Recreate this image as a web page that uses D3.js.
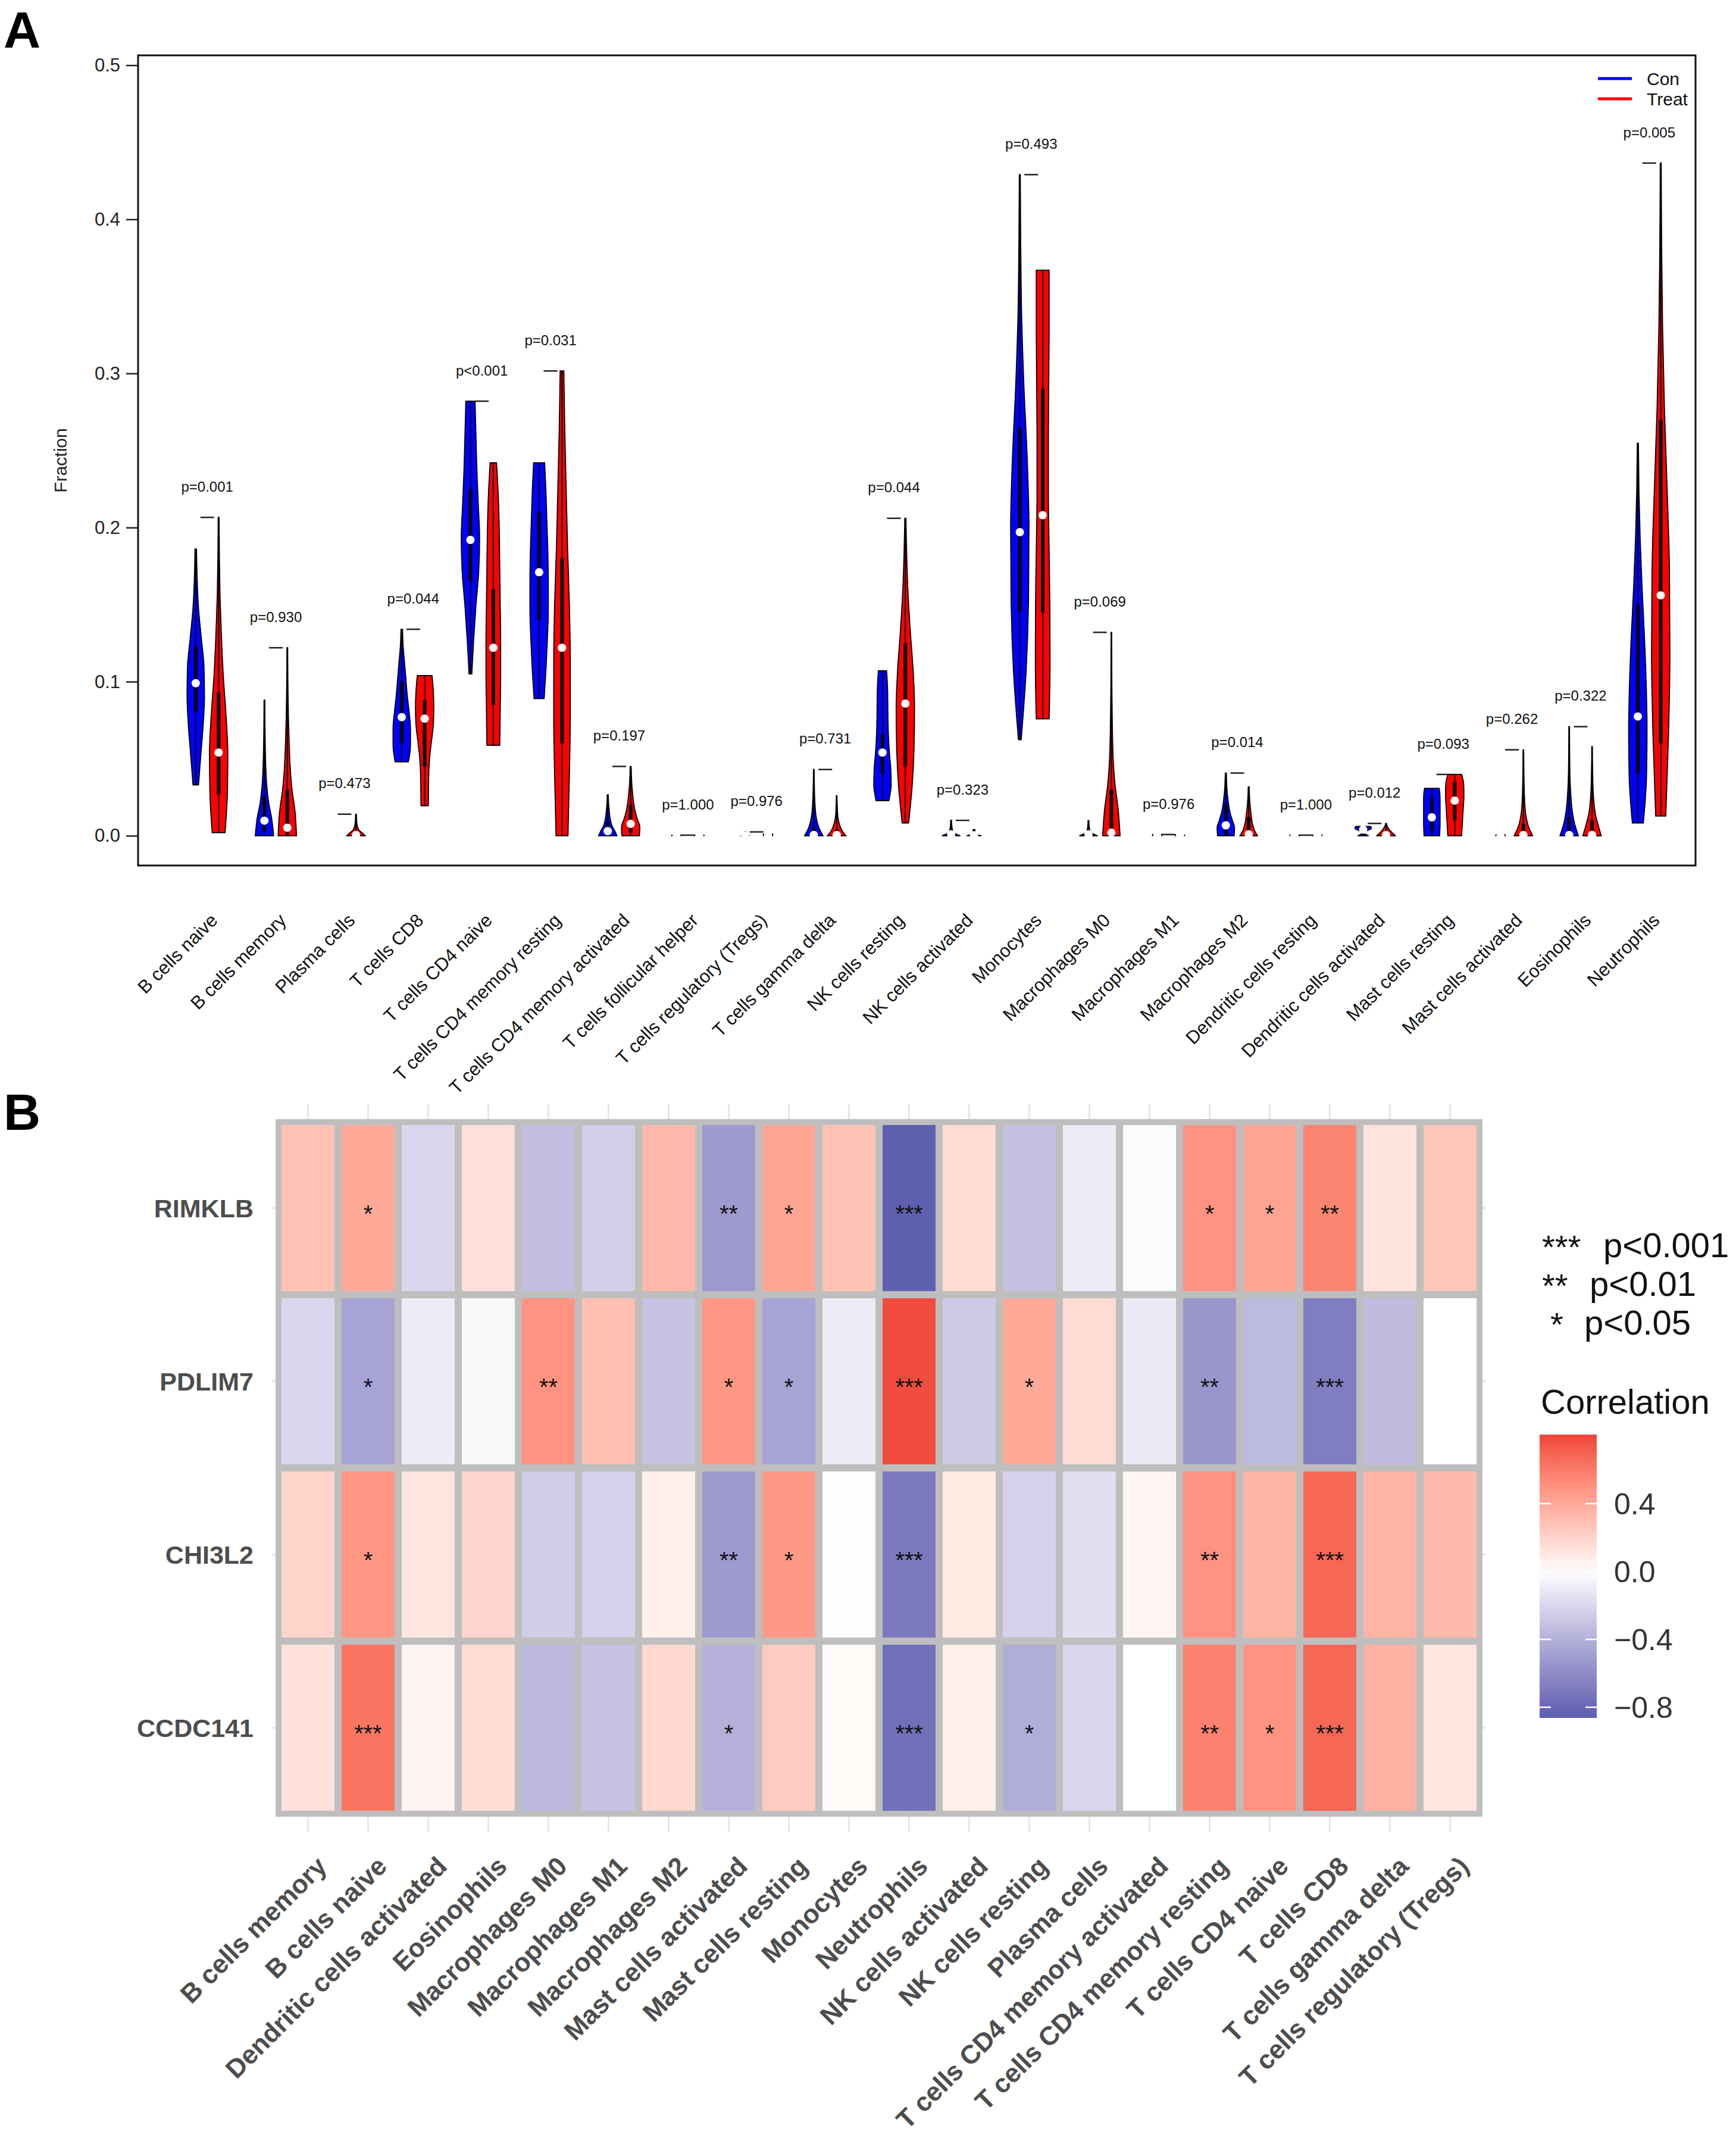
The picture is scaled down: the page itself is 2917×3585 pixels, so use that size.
<!DOCTYPE html>
<html>
<head>
<meta charset="utf-8">
<script src="https://cdn.jsdelivr.net/npm/d3@7"></script>
<style>
  html, body { margin: 0; padding: 0; background: #fff; }
  svg { display: block; font-family: "Liberation Sans", Arial, Helvetica, sans-serif; }
</style>
</head>
<body>
<svg id="fig" width="2917" height="3585"></svg>
<script>

// ---------- panel A data ----------
var cellTypes = ['B cells naive', 'B cells memory', 'Plasma cells', 'T cells CD8', 'T cells CD4 naive',
  'T cells CD4 memory resting', 'T cells CD4 memory activated', 'T cells follicular helper',
  'T cells regulatory (Tregs)', 'T cells gamma delta', 'NK cells resting', 'NK cells activated',
  'Monocytes', 'Macrophages M0', 'Macrophages M1', 'Macrophages M2', 'Dendritic cells resting',
  'Dendritic cells activated', 'Mast cells resting', 'Mast cells activated', 'Eosinophils', 'Neutrophils'];

var pLabels = ['p=0.001', 'p=0.930', 'p=0.473', 'p=0.044', 'p<0.001', 'p=0.031', 'p=0.197', 'p=1.000',
  'p=0.976', 'p=0.731', 'p=0.044', 'p=0.323', 'p=0.493', 'p=0.069', 'p=0.976', 'p=0.014', 'p=1.000',
  'p=0.012', 'p=0.093', 'p=0.262', 'p=0.322', 'p=0.005'];

// [min, q1, median, q3, max]
var conStats = [
  [0.033, 0.080, 0.099, 0.123, 0.186],
  [0, 0.003, 0.0098, 0.025, 0.088],
  [0, 0, 0.0003, 0.001, 0.002],
  [0.048, 0.060, 0.077, 0.100, 0.134],
  [0.105, 0.165, 0.192, 0.225, 0.282],
  [0.089, 0.140, 0.171, 0.210, 0.242],
  [0, 0, 0.003, 0.009, 0.0266],
  [0, 0, 0, 0, 0.0004],
  [0, 0, 0, 0.0005, 0.0025],
  [0, 0, 0.0005, 0.006, 0.043],
  [0.0228, 0.040, 0.054, 0.066, 0.107],
  [0, 0, 0.001, 0.004, 0.010],
  [0.0624, 0.145, 0.197, 0.265, 0.429],
  [0, 0, 0.001, 0.002, 0.0098],
  [0, 0, 0, 0, 0.0008],
  [0, 0, 0.0068, 0.020, 0.0407],
  [0, 0, 0, 0, 0.0004],
  [0, 0.001, 0.004, 0.005, 0.006],
  [0, 0.003, 0.012, 0.025, 0.0308],
  [0, 0, 0, 0, 0.0006],
  [0, 0, 0.0005, 0.012, 0.0708],
  [0.0083, 0.040, 0.0774, 0.150, 0.2547]
];
var treatStats = [
  [0.002, 0.027, 0.054, 0.093, 0.2066],
  [0, 0.001, 0.0052, 0.030, 0.122],
  [0, 0, 0.0005, 0.002, 0.014],
  [0.0195, 0.045, 0.076, 0.088, 0.104],
  [0.0587, 0.085, 0.122, 0.160, 0.242],
  [0, 0.060, 0.122, 0.180, 0.3016],
  [0, 0.002, 0.0077, 0.020, 0.045],
  [0, 0, 0, 0, 0.0004],
  [0, 0, 0, 0, 0.001],
  [0, 0, 0.0005, 0.004, 0.026],
  [0.0083, 0.045, 0.0858, 0.125, 0.206],
  [0, 0, 0.0003, 0.001, 0.004],
  [0.0759, 0.145, 0.208, 0.290, 0.367],
  [0, 0, 0.002, 0.030, 0.132],
  [0, 0, 0, 0, 0.0004],
  [0, 0, 0.001, 0.012, 0.0317],
  [0, 0, 0, 0, 0.0004],
  [0, 0, 0.0005, 0.003, 0.008],
  [0, 0.010, 0.0228, 0.035, 0.0398],
  [0, 0, 0.0005, 0.008, 0.0558],
  [0, 0, 0.0005, 0.010, 0.0579],
  [0.0128, 0.060, 0.156, 0.270, 0.4365]
];

// violin half-widths (fraction of 0.4 x-units), from min (first) to max (last)
var conShape = [
  [0.3, 0.55, 0.8, 0.95, 0.9, 0.6, 0.3, 0.15, 0.08],
  [1.0, 0.8, 0.45, 0.25, 0.15, 0.1, 0.07, 0.05, 0.04],
  [0.4, 0.2, 0.1, 0.08, 0.06, 0.05, 0.04, 0.03, 0.03],
  [0.72, 0.95, 0.95, 0.8, 0.6, 0.45, 0.3, 0.15, 0.08],
  [0.15, 0.35, 0.6, 0.9, 1.0, 0.85, 0.7, 0.6, 0.5],
  [0.55, 0.75, 0.9, 1.0, 1.0, 0.95, 0.85, 0.75, 0.6],
  [1.0, 0.75, 0.45, 0.3, 0.2, 0.15, 0.1, 0.07, 0.05],
  [0.5, 0.5, 0.5, 0.5, 0.5, 0.5, 0.5, 0.5, 0.5],
  [0.5, 0.3, 0.2, 0.15, 0.1, 0.1, 0.1, 0.1, 0.1],
  [1.0, 0.55, 0.3, 0.18, 0.12, 0.08, 0.06, 0.04, 0.03],
  [0.7, 0.95, 0.9, 0.75, 0.65, 0.6, 0.58, 0.55, 0.45],
  [1.0, 0.5, 0.25, 0.15, 0.1, 0.08, 0.06, 0.05, 0.05],
  [0.15, 0.7, 0.95, 1.0, 0.8, 0.45, 0.2, 0.1, 0.05],
  [1.0, 0.5, 0.25, 0.15, 0.1, 0.08, 0.06, 0.05, 0.05],
  [0.5, 0.5, 0.5, 0.5, 0.5, 0.5, 0.5, 0.5, 0.5],
  [0.9, 0.95, 0.7, 0.45, 0.3, 0.2, 0.12, 0.08, 0.05],
  [0.5, 0.5, 0.5, 0.5, 0.5, 0.5, 0.5, 0.5, 0.5],
  [0.6, 0.3, 0.15, 0.2, 0.35, 0.6, 0.85, 0.9, 0.8],
  [0.85, 0.88, 0.9, 0.9, 0.9, 0.9, 0.9, 0.88, 0.8],
  [0.5, 0.5, 0.5, 0.5, 0.5, 0.5, 0.5, 0.5, 0.5],
  [1.0, 0.55, 0.3, 0.18, 0.1, 0.07, 0.05, 0.04, 0.03],
  [0.6, 0.95, 1.0, 0.9, 0.7, 0.45, 0.25, 0.12, 0.06]
];
var treatShape = [
  [0.7, 0.95, 1.0, 0.8, 0.5, 0.3, 0.15, 0.08, 0.05],
  [1.0, 0.85, 0.5, 0.3, 0.2, 0.12, 0.08, 0.05, 0.04],
  [1.0, 0.7, 0.35, 0.2, 0.12, 0.08, 0.06, 0.05, 0.04],
  [0.4, 0.42, 0.45, 0.55, 0.75, 0.95, 1.0, 0.95, 0.8],
  [0.7, 0.75, 0.8, 0.8, 0.75, 0.7, 0.65, 0.55, 0.35],
  [0.65, 0.8, 0.9, 0.9, 0.8, 0.6, 0.45, 0.3, 0.2],
  [0.95, 1.0, 0.7, 0.45, 0.3, 0.2, 0.12, 0.08, 0.05],
  [0.5, 0.5, 0.5, 0.5, 0.5, 0.5, 0.5, 0.5, 0.5],
  [0.5, 0.5, 0.5, 0.5, 0.5, 0.5, 0.5, 0.5, 0.5],
  [1.0, 0.6, 0.35, 0.2, 0.12, 0.08, 0.06, 0.04, 0.03],
  [0.35, 0.75, 0.95, 1.0, 0.85, 0.55, 0.3, 0.15, 0.06],
  [0.8, 0.4, 0.2, 0.15, 0.1, 0.1, 0.1, 0.1, 0.1],
  [0.7, 0.8, 0.78, 0.7, 0.62, 0.62, 0.66, 0.7, 0.7],
  [0.95, 0.75, 0.4, 0.2, 0.12, 0.08, 0.05, 0.04, 0.03],
  [0.5, 0.5, 0.5, 0.5, 0.5, 0.5, 0.5, 0.5, 0.5],
  [0.95, 0.6, 0.4, 0.3, 0.22, 0.15, 0.1, 0.07, 0.05],
  [0.5, 0.5, 0.5, 0.5, 0.5, 0.5, 0.5, 0.5, 0.5],
  [1.0, 0.85, 0.65, 0.5, 0.35, 0.25, 0.15, 0.08, 0.05],
  [0.75, 0.8, 0.85, 0.9, 0.95, 1.0, 1.0, 0.95, 0.75],
  [1.0, 0.5, 0.25, 0.15, 0.1, 0.07, 0.05, 0.04, 0.03],
  [1.0, 0.65, 0.35, 0.2, 0.12, 0.08, 0.06, 0.04, 0.03],
  [0.55, 0.85, 1.0, 0.95, 0.7, 0.4, 0.2, 0.1, 0.05]
];

var yTicks = [0, 0.1, 0.2, 0.3, 0.4, 0.5];
var groupNames = ['Con', 'Treat'];
var groupColors = ['#0000FF', '#FF0000'];

// ---------- panel B data ----------
var genes = ['RIMKLB', 'PDLIM7', 'CHI3L2', 'CCDC141'];
var immuneCells = ['B cells memory', 'B cells naive', 'Dendritic cells activated', 'Eosinophils',
  'Macrophages M0', 'Macrophages M1', 'Macrophages M2', 'Mast cells activated', 'Mast cells resting',
  'Monocytes', 'Neutrophils', 'NK cells activated', 'NK cells resting', 'Plasma cells',
  'T cells CD4 memory activated', 'T cells CD4 memory resting', 'T cells CD4 naive', 'T cells CD8',
  'T cells gamma delta', 'T cells regulatory (Tregs)'];

var corr = [
  [0.28, 0.40, -0.20, 0.15, -0.33, -0.24, 0.33, -0.52, 0.42, 0.28, -0.85, 0.17, -0.32, -0.10, -0.02, 0.50, 0.42, 0.56, 0.13, 0.27],
  [-0.20, -0.47, -0.10, -0.03, 0.50, 0.30, -0.30, 0.48, -0.47, -0.10, 0.78, -0.26, 0.40, 0.17, -0.11, -0.54, -0.35, -0.68, -0.34, 0.00],
  [0.20, 0.48, 0.12, 0.19, -0.25, -0.23, 0.07, -0.52, 0.47, 0.01, -0.70, 0.10, -0.23, -0.16, 0.04, 0.50, 0.35, 0.68, 0.35, 0.32],
  [0.14, 0.62, 0.05, 0.16, -0.36, -0.31, 0.18, -0.40, 0.24, 0.03, -0.75, 0.08, -0.42, -0.20, 0.00, 0.57, 0.50, 0.68, 0.36, 0.12]
];
var stars = [
  ['', '*', '', '', '', '', '', '**', '*', '', '***', '', '', '', '', '*', '*', '**', '', ''],
  ['', '*', '', '', '**', '', '', '*', '*', '', '***', '', '*', '', '', '**', '', '***', '', ''],
  ['', '*', '', '', '', '', '', '**', '*', '', '***', '', '', '', '', '**', '', '***', '', ''],
  ['', '***', '', '', '', '', '', '*', '', '', '***', '', '*', '', '', '**', '*', '***', '', '']
];
var sigStars = ['***', '**', '*'];
var sigLabels = ['p<0.001', 'p<0.01', 'p<0.05'];
var legendTicks = [0.4, 0.0, -0.4, -0.8];
var corrRange = [-0.863, 0.807];

var svg = d3.select('#fig');

// ================= Panel A =================
var boxA = { left: 232, right: 2849, top: 93, bottom: 1454 };
var x = d3.scaleLinear().domain([-2.52, 65.52]).range([boxA.left, boxA.right]);
var y = d3.scaleLinear().domain([-0.0193, 0.5064]).range([boxA.bottom, boxA.top]);
var halfW = 0.4;

var gA = svg.append('g');

gA.append('text').attr('x', 6).attr('y', 80)
    .attr('font-size', 86).attr('font-weight', 'bold').text('A');

var yAxis = d3.axisLeft(y).tickValues(yTicks).tickFormat(d3.format('.1f')).tickSize(20).tickPadding(10);
var ya = gA.append('g').attr('transform', 'translate(' + boxA.left + ',0)').call(yAxis);
ya.select('.domain').remove();
ya.selectAll('.tick line').attr('stroke', '#222').attr('stroke-width', 2.5);
ya.selectAll('.tick text').attr('font-size', 31).attr('fill', '#222')
    .attr('font-family', '"Liberation Sans", Arial, sans-serif');

gA.append('text')
    .attr('transform', 'translate(112,' + ((boxA.top + boxA.bottom) / 2) + ') rotate(-90)')
    .attr('text-anchor', 'middle').attr('font-size', 30).attr('fill', '#222').text('Fraction');

function violinPath(at, stats, shape) {
  var lo = stats[0], hi = stats[4];
  var pts = shape.map(function(w, k) {
    return { v: lo + (hi - lo) * k / (shape.length - 1), w: w * halfW };
  });
  return d3.area()
      .curve(d3.curveMonotoneY)
      .y(function(d) { return y(d.v); })
      .x0(function(d) { return x(at - d.w); })
      .x1(function(d) { return x(at + d.w); })(pts);
}

function drawViolin(at, stats, shape, fill) {
  var g = gA.append('g');
  g.append('path').attr('d', violinPath(at, stats, shape))
      .attr('fill', fill).attr('stroke', '#000').attr('stroke-width', 1.8);
  g.append('line')
      .attr('x1', x(at)).attr('x2', x(at))
      .attr('y1', y(stats[0])).attr('y2', y(stats[4]))
      .attr('stroke', '#000').attr('stroke-width', 2);
  g.append('rect')
      .attr('x', x(at) - 3).attr('width', 6)
      .attr('y', y(stats[3])).attr('height', Math.max(0, y(stats[1]) - y(stats[3])))
      .attr('fill', '#000');
  g.append('circle').attr('cx', x(at)).attr('cy', y(stats[2])).attr('r', 7).attr('fill', '#fff');
}

cellTypes.forEach(function(name, i) {
  var at = 3 * i;
  drawViolin(at, conStats[i], conShape[i], groupColors[0]);
  drawViolin(at + 1, treatStats[i], treatShape[i], groupColors[1]);
  var mx = Math.max(conStats[i][4], treatStats[i][4]);
  gA.append('line')
      .attr('x1', x(at + 0.2)).attr('x2', x(at + 0.8))
      .attr('y1', y(mx)).attr('y2', y(mx))
      .attr('stroke', '#222').attr('stroke-width', 2.5);
  gA.append('text')
      .attr('x', x(at + 0.5)).attr('y', y(mx + 0.02))
      .attr('dy', '0.35em').attr('text-anchor', 'middle')
      .attr('font-size', 24).attr('fill', '#111').text(pLabels[i]);
  gA.append('text')
      .attr('transform', 'translate(' + x(at + 1) + ',1548) rotate(-45)')
      .attr('text-anchor', 'end').attr('font-size', 31).attr('fill', '#111').text(name);
});

gA.append('rect')
    .attr('x', boxA.left).attr('y', boxA.top)
    .attr('width', boxA.right - boxA.left).attr('height', boxA.bottom - boxA.top)
    .attr('fill', 'none').attr('stroke', '#111').attr('stroke-width', 3);

// legend
groupNames.forEach(function(nm, k) {
  var ly = 132 + k * 34;
  gA.append('line').attr('x1', 2685).attr('x2', 2742).attr('y1', ly).attr('y2', ly)
      .attr('stroke', groupColors[k]).attr('stroke-width', 5);
  gA.append('text').attr('x', 2767).attr('y', ly).attr('dy', '0.35em')
      .attr('font-size', 30).attr('fill', '#111').text(nm);
});

// ================= Panel B =================
var gB = svg.append('g');
gB.append('text').attr('x', 6).attr('y', 1898)
    .attr('font-size', 86).attr('font-weight', 'bold').text('B');

var X0 = 467, X1 = 2487, Y0 = 1884, Y1 = 3048;
var xb = d3.scaleBand().domain(immuneCells).range([X0, X1]);
var yb = d3.scaleBand().domain(genes).range([Y0, Y1]);
var cw = xb.bandwidth(), ch = yb.bandwidth();

var color = d3.scaleLinear()
    .domain([-0.863, 0, 0.863])
    .range(['#5C5DAF', '#FFFFFF', '#EA2E2D'])
    .interpolate(d3.interpolateLab)
    .clamp(true);

// grid lines in the panel expansion
var padX = 0.1 * cw, padY = 0.1 * ch;
immuneCells.forEach(function(c) {
  gB.append('line')
      .attr('x1', xb(c) + cw / 2).attr('x2', xb(c) + cw / 2)
      .attr('y1', Y0 - padY).attr('y2', Y1 + padY)
      .attr('stroke', '#E6E6E6').attr('stroke-width', 3);
});
genes.forEach(function(g) {
  gB.append('line')
      .attr('y1', yb(g) + ch / 2).attr('y2', yb(g) + ch / 2)
      .attr('x1', X0 - padX).attr('x2', X1 + padX)
      .attr('stroke', '#E6E6E6').attr('stroke-width', 3);
});

gB.append('rect')
    .attr('x', X0 - 4).attr('y', Y0 - 4)
    .attr('width', X1 - X0 + 8).attr('height', Y1 - Y0 + 8)
    .attr('fill', '#BEBEBE');

var inset = 6;
genes.forEach(function(g, r) {
  immuneCells.forEach(function(c, k) {
    gB.append('rect')
        .attr('x', xb(c) + inset).attr('y', yb(g) + inset)
        .attr('width', cw - 2 * inset).attr('height', ch - 2 * inset)
        .attr('fill', color(corr[r][k]));
    if (stars[r][k]) {
      gB.append('text')
          .attr('x', xb(c) + cw / 2).attr('y', yb(g) + ch / 2 + 23)
          .attr('text-anchor', 'middle').attr('font-size', 40).attr('fill', '#111')
          .text(stars[r][k]);
    }
  });
  gB.append('text')
      .attr('x', 426).attr('y', yb(g) + ch / 2).attr('dy', '0.35em')
      .attr('text-anchor', 'end').attr('font-size', 43).attr('font-weight', 'bold')
      .attr('fill', '#4D4D4D').text(g);
});

immuneCells.forEach(function(c) {
  gB.append('text')
      .attr('transform', 'translate(' + (xb(c) + cw / 2 + 34) + ',3138) rotate(-45)')
      .attr('text-anchor', 'end').attr('font-size', 44).attr('font-weight', 'bold')
      .attr('fill', '#4D4D4D').text(c);
});

// significance legend
var sigStarX = [2591, 2591, 2605];
var sigTextX = [2694, 2671, 2662];
sigStars.forEach(function(s, k) {
  var base = 2112 + k * 65;
  gB.append('text').attr('x', sigStarX[k]).attr('y', base + 2)
      .attr('font-size', 56).attr('fill', '#111').text(s);
  gB.append('text').attr('x', sigTextX[k]).attr('y', base)
      .attr('font-size', 58).attr('fill', '#111').text(sigLabels[k]);
});

gB.append('text').attr('x', 2589).attr('y', 2375)
    .attr('font-size', 58).attr('fill', '#111').text('Correlation');

// colour bar
var cb = { x: 2587, w: 96 };
var cy = d3.scaleLinear().domain(corrRange).range([2886, 2410]);
var defs = svg.append('defs');
var grad = defs.append('linearGradient').attr('id', 'cbar')
    .attr('x1', 0).attr('y1', 1).attr('x2', 0).attr('y2', 0);
d3.range(0, 21).forEach(function(k) {
  var v = corrRange[0] + (corrRange[1] - corrRange[0]) * k / 20;
  grad.append('stop').attr('offset', (k / 20 * 100) + '%').attr('stop-color', color(v));
});
gB.append('rect').attr('x', cb.x).attr('y', cy(corrRange[1]))
    .attr('width', cb.w).attr('height', cy(corrRange[0]) - cy(corrRange[1]))
    .attr('fill', 'url(#cbar)');
legendTicks.forEach(function(t) {
  var ty = cy(t);
  gB.append('line').attr('x1', cb.x).attr('x2', cb.x + 19).attr('y1', ty).attr('y2', ty)
      .attr('stroke', '#fff').attr('stroke-width', 2.5);
  gB.append('line').attr('x1', cb.x + cb.w - 19).attr('x2', cb.x + cb.w).attr('y1', ty).attr('y2', ty)
      .attr('stroke', '#fff').attr('stroke-width', 2.5);
  gB.append('text').attr('x', 2712).attr('y', ty).attr('dy', '0.35em')
      .attr('font-size', 50).attr('fill', '#333')
      .text(d3.format('.1f')(t).replace('-', '\u2212'));
});

</script>
</body>
</html>
